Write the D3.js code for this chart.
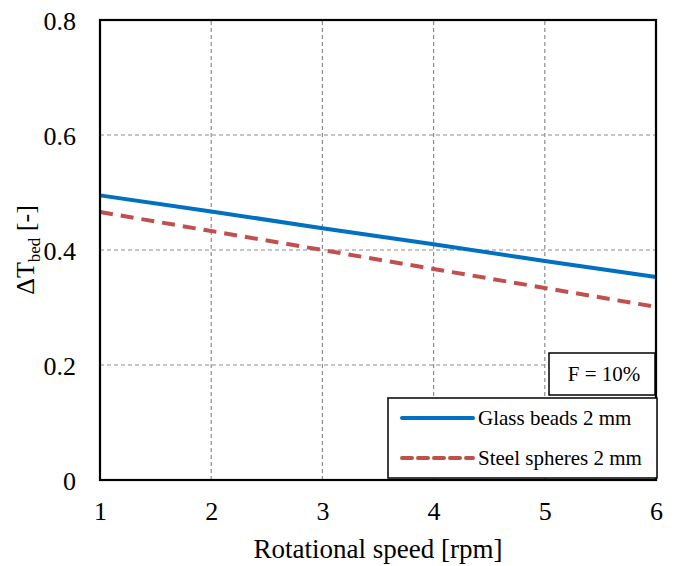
<!DOCTYPE html>
<html>
<head>
<meta charset="utf-8">
<script src="https://cdn.jsdelivr.net/npm/d3@7"></script>
<style>
  body { margin: 0; background: #fff; }
  svg text { font-family: "Liberation Serif", "Times New Roman", serif; fill: #000; }
</style>
</head>
<body>
<svg id="chart" width="680" height="566"></svg>
<script>
// data
const rpm = [1, 2, 3, 4, 5, 6];
const glassBeads = [0.495, 0.467, 0.438, 0.410, 0.381, 0.353];
const steelSpheres = [0.466, 0.433, 0.400, 0.367, 0.334, 0.301];
const yTicks = [0, 0.2, 0.4, 0.6, 0.8];
const seriesNames = ["Glass beads 2 mm", "Steel spheres 2 mm"];

const MARGIN = { LEFT: 100, RIGHT: 24, TOP: 20, BOTTOM: 86 };
const width = 680, height = 566;

const svg = d3.select("#chart");

const xScale = d3.scaleLinear()
  .domain([1, 6])
  .range([MARGIN.LEFT, width - MARGIN.RIGHT]);

const yScale = d3.scaleLinear()
  .domain([0, 0.8])
  .range([height - MARGIN.BOTTOM, MARGIN.TOP]);

// gridlines
svg.append("g")
  .selectAll("line")
  .data(rpm.slice(1, -1))
  .join("line")
    .attr("x1", d => xScale(d)).attr("x2", d => xScale(d))
    .attr("y1", yScale(0)).attr("y2", yScale(0.8))
    .attr("stroke", "#8c8c8c").attr("stroke-width", 1.2)
    .attr("stroke-dasharray", "4,3");

svg.append("g")
  .selectAll("line")
  .data(yTicks.slice(1, -1))
  .join("line")
    .attr("x1", xScale(1)).attr("x2", xScale(6))
    .attr("y1", d => yScale(d)).attr("y2", d => yScale(d))
    .attr("stroke", "#8c8c8c").attr("stroke-width", 1.2)
    .attr("stroke-dasharray", "4,3");

// lines
const line = d3.line()
  .x((d, i) => xScale(rpm[i]))
  .y(d => yScale(d));

svg.append("path")
  .attr("d", line(steelSpheres))
  .attr("fill", "none")
  .attr("stroke", "#C0504D")
  .attr("stroke-width", 4)
  .attr("stroke-dasharray", "13,8");

svg.append("path")
  .attr("d", line(glassBeads))
  .attr("fill", "none")
  .attr("stroke", "#0070C0")
  .attr("stroke-width", 4);

// plot frame
svg.append("rect")
  .attr("x", xScale(1)).attr("y", yScale(0.8))
  .attr("width", xScale(6) - xScale(1))
  .attr("height", yScale(0) - yScale(0.8))
  .attr("fill", "none")
  .attr("stroke", "#000").attr("stroke-width", 2.2);

// axes
const yAxis = d3.axisLeft(yScale).tickValues(yTicks).tickSize(0).tickPadding(24)
  .tickFormat(d => d === 0 ? "0" : d3.format(".1f")(d));
svg.append("g")
  .attr("transform", "translate(" + MARGIN.LEFT + ",0)")
  .call(yAxis)
  .attr("font-family", null)
  .attr("font-size", 26)
  .call(g => g.select(".domain").remove())
  .selectAll("text").attr("dy", "0.36em");

const xAxis = d3.axisBottom(xScale).tickValues(rpm).tickSize(0).tickPadding(22)
  .tickFormat(d3.format("d"));
svg.append("g")
  .attr("transform", "translate(0," + (height - MARGIN.BOTTOM) + ")")
  .call(xAxis)
  .attr("font-family", null)
  .attr("font-size", 26)
  .call(g => g.select(".domain").remove());

// axis titles
svg.append("text")
  .attr("x", (xScale(1) + xScale(6)) / 2)
  .attr("y", 558)
  .attr("text-anchor", "middle")
  .style("font-size", "27px")
  .text("Rotational speed [rpm]");

const yTitle = svg.append("text")
  .attr("transform", "translate(34," + ((yScale(0) + yScale(0.8)) / 2) + ") rotate(-90)")
  .attr("text-anchor", "middle")
  .style("font-size", "26px");
yTitle.append("tspan").text("\u0394T");
yTitle.append("tspan").attr("dy", 6).style("font-size", "17px").text("bed");
yTitle.append("tspan").attr("dy", -6).text(" [-]");

// F = 10% box
svg.append("rect")
  .attr("x", 549).attr("y", 353).attr("width", 106).attr("height", 42)
  .attr("fill", "#fff").attr("stroke", "#000").attr("stroke-width", 1.5);
svg.append("text")
  .attr("x", 604).attr("y", 381)
  .attr("text-anchor", "middle")
  .style("font-size", "21px")
  .text("F = 10%");

// legend
const legend = svg.append("g").attr("transform", "translate(388,398)");
legend.append("rect")
  .attr("width", 269).attr("height", 80)
  .attr("fill", "#fff").attr("stroke", "#000").attr("stroke-width", 1.5);
const colors = ["#0070C0", "#C0504D"];
const dashes = [null, "10,6"];
seriesNames.forEach(function (name, i) {
  legend.append("line")
    .attr("x1", 14).attr("x2", 85)
    .attr("y1", 20 + i * 40).attr("y2", 20 + i * 40)
    .attr("stroke", colors[i]).attr("stroke-width", 4)
    .attr("stroke-linecap", "round")
    .attr("stroke-dasharray", dashes[i]);
  legend.append("text")
    .attr("x", 90).attr("y", 27 + i * 40)
    .style("font-size", "21px")
    .text(name);
});
</script>
</body>
</html>
